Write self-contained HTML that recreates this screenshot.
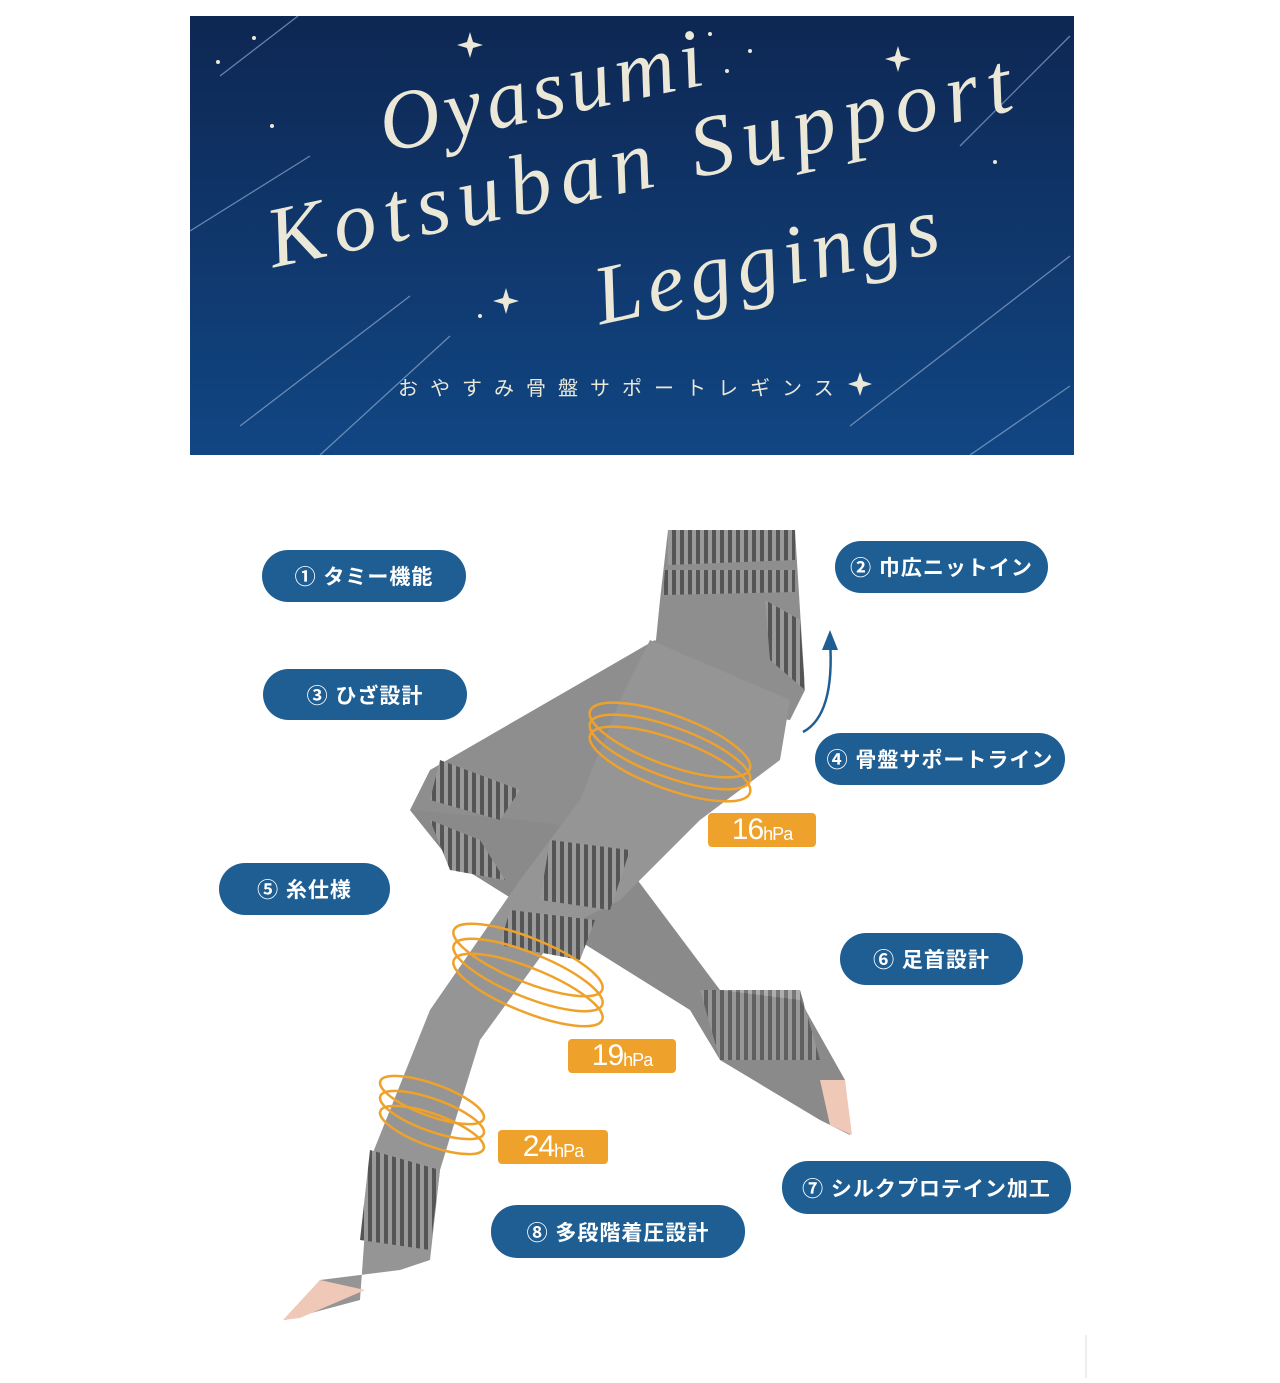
<!DOCTYPE html>
<html><head><meta charset="utf-8"><style>
body{margin:0;width:1280px;height:1383px;background:#fff;position:relative;overflow:hidden;font-family:"Liberation Sans","Noto Sans CJK JP",sans-serif}
.banner{position:absolute;left:190px;top:16px;width:884px;height:439px;background:linear-gradient(#0e2753,#114683);overflow:hidden}
.t{position:absolute;color:#ebe8d8;font-family:"Liberation Serif",serif;font-style:italic;white-space:nowrap;transform-origin:left bottom}
.pill{position:absolute;background:#1e5e93;color:#fff;border-radius:26px;font-size:21px;font-weight:bold;display:flex;align-items:center;justify-content:center;letter-spacing:1px}
.or{position:absolute;background:#efa22b;color:#fff;border-radius:4px;font-size:30px;display:flex;align-items:center;justify-content:center;letter-spacing:-1px}
.or small{font-size:18px;margin-top:8px}
</style></head><body>
<div class="banner">
<svg width="884" height="439" style="position:absolute;left:0;top:0">
<g stroke="#8fa8cc" stroke-width="1.3" opacity=".7">
<line x1="108" y1="0" x2="30" y2="60"/><line x1="880" y1="20" x2="770" y2="130"/>
<line x1="120" y1="140" x2="0" y2="215"/><line x1="880" y1="240" x2="660" y2="410"/>
<line x1="220" y1="280" x2="50" y2="410"/><line x1="880" y1="370" x2="780" y2="439"/>
<line x1="260" y1="320" x2="130" y2="439"/></g>
<g fill="#ebe8d8">
<circle cx="28" cy="46" r="2"/><circle cx="64" cy="22" r="2"/><circle cx="82" cy="110" r="2"/><circle cx="520" cy="18" r="2"/><circle cx="560" cy="35" r="2"/><circle cx="537" cy="55" r="2"/><circle cx="805" cy="146" r="2"/><circle cx="290" cy="300" r="2"/>
<path d="M280 16l3 10 10 3-10 3-3 10-3-10-10-3 10-3z"/><path d="M708 30l3 10 10 3-10 3-3 10-3-10-10-3 10-3z"/><path d="M316 272l3 10 10 3-10 3-3 10-3-10-10-3 10-3z"/><path d="M670 356l3 9 9 3-9 3-3 9-3-9-9-3 9-3z"/>
</g></svg>
<div class="t" style="left:200px;top:60px;font-size:84px;letter-spacing:5px;transform:rotate(-12deg)">Oyasumi</div>
<div class="t" style="left:88px;top:172px;font-size:86px;letter-spacing:9px;transform:rotate(-12deg)">Kotsuban Support</div>
<div class="t" style="left:415px;top:232px;font-size:84px;letter-spacing:6px;transform:rotate(-12deg)">Leggings</div>
<div style="position:absolute;left:208px;top:356px;color:#ebe8d8;font-size:20px;letter-spacing:12px">おやすみ骨盤サポートレギンス</div>
</div>

<svg width="1280" height="1383" style="position:absolute;left:0;top:0">
<defs><pattern id="st" width="8" height="8" patternUnits="userSpaceOnUse"><rect width="8" height="8" fill="#9a9a9a"/><rect width="4" height="8" fill="#555"/></pattern></defs>
<path d="M655 640 L745 740 L640 840 L560 840 L450 860 L410 810 L430 770 Z" fill="#8e8e8e"/>
<path d="M450 860 L410 810 L520 820 L600 830 L720 990 L800 1000 L845 1080 L850 1135 L820 1120 L720 1060 L690 1010 Z" fill="#8a8a8a"/>
<path d="M700 990 L800 990 L820 1060 L720 1060 Z" fill="url(#st)" opacity=".8"/>
<path d="M820 1080 L845 1080 L852 1135 L830 1125 Z" fill="#f0c8b8"/>
<path d="M440 760 L520 790 L500 820 L430 800 Z" fill="url(#st)"/>
<path d="M430 820 L480 840 L505 880 L450 870 Z" fill="url(#st)"/>
<path d="M668 530 L795 530 L805 690 L790 720 L650 700 L660 600 Z" fill="#8e8e8e"/>
<path d="M668 530 L795 530 L795 560 L668 565 Z" fill="url(#st)"/>
<path d="M665 570 L795 570 L795 592 L663 595 Z" fill="url(#st)"/>
<path d="M765 600 L800 620 L805 690 L770 660 Z" fill="url(#st)"/>
<path d="M650 640 L790 700 L780 760 L700 820 L620 900 L560 930 L480 1040 L440 1170 L430 1260 L400 1270 L320 1280 L285 1320 L360 1300 L370 1160 L430 1010 L520 880 L580 800 L620 700 Z" fill="#959595"/>
<path d="M550 840 L630 850 L610 910 L540 900 Z" fill="url(#st)"/>
<path d="M510 910 L595 920 L580 960 L500 945 Z" fill="url(#st)"/>
<path d="M370 1150 L440 1170 L430 1250 L360 1240 Z" fill="url(#st)"/>
<path d="M320 1280 L365 1290 L300 1318 L283 1320 Z" fill="#f0c8b8"/>
<g fill="none" stroke="#efa22b" stroke-width="2.5">
<ellipse cx="670" cy="740" rx="85" ry="25" transform="rotate(20 670 740)"/><ellipse cx="670" cy="752" rx="85" ry="25" transform="rotate(20 670 752)"/><ellipse cx="670" cy="764" rx="85" ry="25" transform="rotate(20 670 764)"/>
<ellipse cx="528" cy="960" rx="80" ry="22" transform="rotate(22 528 960)"/><ellipse cx="528" cy="975" rx="80" ry="22" transform="rotate(22 528 975)"/><ellipse cx="528" cy="990" rx="80" ry="22" transform="rotate(22 528 990)"/>
<ellipse cx="432" cy="1100" rx="55" ry="16" transform="rotate(20 432 1100)"/><ellipse cx="432" cy="1115" rx="55" ry="16" transform="rotate(20 432 1115)"/><ellipse cx="432" cy="1130" rx="55" ry="16" transform="rotate(20 432 1130)"/>
</g>
<path d="M803 732 Q835 715 830 640" fill="none" stroke="#1e5e93" stroke-width="2.5"/>
<path d="M822 650 L830 630 L838 650 Z" fill="#1e5e93"/>
<line x1="1086" y1="1335" x2="1086" y2="1378" stroke="#ddd"/>
</svg>

<div class="pill" style="left:262px;top:550px;width:204px;height:52px">① タミー機能</div>
<div class="pill" style="left:835px;top:541px;width:213px;height:52px">② 巾広ニットイン</div>
<div class="pill" style="left:263px;top:669px;width:204px;height:51px">③ ひざ設計</div>
<div class="pill" style="left:815px;top:733px;width:250px;height:52px">④ 骨盤サポートライン</div>
<div class="pill" style="left:219px;top:863px;width:171px;height:52px">⑤ 糸仕様</div>
<div class="pill" style="left:840px;top:933px;width:183px;height:52px">⑥ 足首設計</div>
<div class="pill" style="left:782px;top:1161px;width:289px;height:53px">⑦ シルクプロテイン加工</div>
<div class="pill" style="left:491px;top:1205px;width:254px;height:53px">⑧ 多段階着圧設計</div>
<div class="or" style="left:708px;top:813px;width:108px;height:34px">16<small>hPa</small></div>
<div class="or" style="left:568px;top:1039px;width:108px;height:34px">19<small>hPa</small></div>
<div class="or" style="left:498px;top:1130px;width:110px;height:34px">24<small>hPa</small></div>
</body></html>
